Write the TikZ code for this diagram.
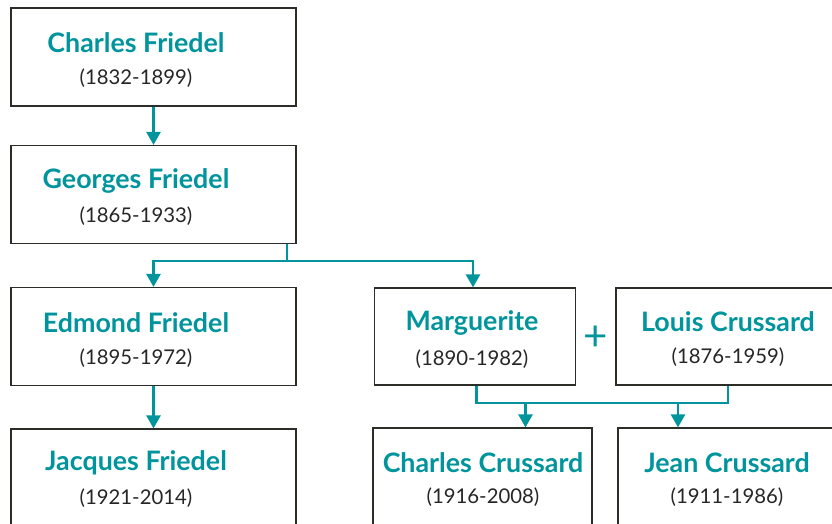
\documentclass[tikz,border=0pt]{standalone}
\usepackage{fontspec}
\setmainfont{Lato}
\usetikzlibrary{arrows.meta}
\usetikzlibrary{positioning}
\definecolor{famteal}{RGB}{0,148,156}
\definecolor{boxline}{RGB}{45,45,40}
\tikzset{person/.style = {draw = boxline, line width = 1.2pt, inner sep = 0,
                          minimum width = 285pt, minimum height = 98pt}}
\tikzset{who/.style = {text = famteal, font = \fontsize{26.8}{28}\selectfont\bfseries, inner sep = 0}}
\tikzset{years/.style = {text = black!85, font = \fontsize{20.3}{22}\selectfont, inner sep = 0}}
\tikzset{line/.style = {draw = famteal, line width = 2.5pt}}
\tikzset{link/.style = {line, -{Triangle[width = 14pt, length = 13pt]}}}

\begin{document}
\begin{tikzpicture}[x = 1pt, y = -1pt]
      \clip (0, 0) rectangle (832, 524);
      % Friedel line
      \node [person] (cf) at (153.5, 57) {};
      \node [person] (gf) at (153.5, 194.5) {};
      \node [person] (ef) at (153.5, 336.5) {};
      \node [person] (jf) at (153.5, 478) {};
      \node [who] (cfn) at (136, 43) {Charles Friedel};
      \node [years] (cfy) at (136, 78) {(1832-1899)};
      \node [who] (gfn) at (136, 181) {Georges Friedel};
      \node [years] (gfy) at (136, 216) {(1865-1933)};
      \node [who] (efn) at (136, 323) {Edmond Friedel};
      \node [years] (efy) at (136, 358) {(1895-1972)};
      \node [who] (jfn) at (136, 463) {Jacques Friedel};
      \node [years] (jfy) at (136, 498) {(1921-2014)};
      % Crussard side
      \node [person, minimum width = 201pt, minimum height = 97pt] (mg) at (475, 336.5) {};
      \node [person, minimum width = 224pt, minimum height = 97pt] (lc) at (728, 336.5) {};
      \node [person, minimum width = 219pt] (cc) at (482.5, 477) {};
      \node [person, minimum width = 217pt] (jc) at (726.5, 477) {};
      \node [who] (mgn) at (472, 323) {Marguerite};
      \node [years] (mgy) at (472, 359) {(1890-1982)};
      \node [who] (lcn) at (728, 322) {Louis Crussard};
      \node [years] (lcy) at (728, 357) {(1876-1959)};
      \node [who] (ccn) at (483, 463) {Charles Crussard};
      \node [years] (ccy) at (483, 497) {(1916-2008)};
      \node [who] (jcn) at (727, 463) {Jean Crussard};
      \node [years] (jcy) at (727, 497) {(1911-1986)};
      \node [text = famteal, font = \fontsize{42}{42}\selectfont\mdseries, inner sep = 0] (plus) at (595.5, 338) {+};
      % connectors
      \draw [link] (cf) -- (gf);
      \coordinate (gbar) at (287, 261);
      \draw [line] ([xshift = 133.5pt]gf.south) -- (gbar);
      \draw [link] (gbar) -| (ef.north);
      \draw [link] (gbar) -| ([xshift = -2pt]mg.north);
      \draw [link] (ef) -- (jf);
      \coordinate (mbar) at (600, 403);
      \draw [line] ([xshift = 1.5pt]mg.south) |- (mbar) -| (lc.south);
      \coordinate (ccin) at ([xshift = 43pt]cc.north);
      \coordinate (jcin) at ([xshift = -48.5pt]jc.north);
      \draw [link] (mbar -| ccin) -- (ccin);
      \draw [link] (mbar -| jcin) -- (jcin);
    \end{tikzpicture}
\end{document}
